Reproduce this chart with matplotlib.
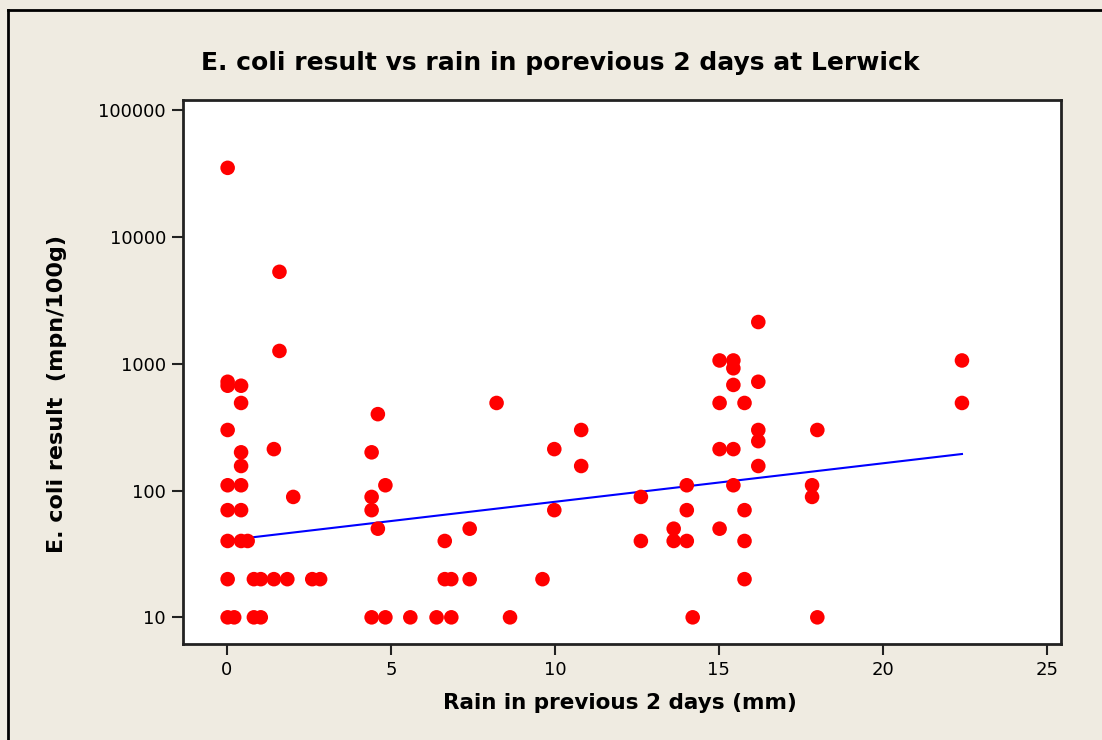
import matplotlib.pyplot as plt
from matplotlib.lines import Line2D
from matplotlib.ticker import FixedLocator, NullLocator

# rain in previous 2 days (mm) and E. coli result (mpn/100g)
rain = [0.02, 0.02, 0.02, 0.02, 0.02, 0.02, 0.02, 0.02, 0.02, 0.22,
        0.43, 0.43, 0.43, 0.43, 0.43, 0.43, 0.43, 0.63,
        0.82, 0.82, 1.03, 1.03, 1.43, 1.43, 1.6, 1.6, 1.84, 2.02, 2.6, 2.84,
        4.41, 4.41, 4.41, 4.41, 4.6, 4.6, 4.83, 4.83, 5.59, 6.39,
        6.64, 6.64, 6.84, 6.84, 7.40, 7.40, 8.22, 8.63, 9.62,
        9.98, 9.98, 10.8, 10.8, 12.62, 12.62, 13.62, 13.62,
        14.02, 14.02, 14.02, 14.2,
        15.02, 15.02, 15.02, 15.02, 15.44, 15.44, 15.44, 15.44, 15.44,
        15.78, 15.78, 15.78, 15.78, 16.2, 16.2, 16.2, 16.2, 16.2,
        17.84, 17.84, 18.0, 18.0, 22.41, 22.41]
ecoli = [35000, 720, 670, 300, 110, 70, 40, 20, 10, 10,
         670, 490, 200, 156, 110, 70, 40, 40,
         20, 10, 20, 10, 212, 20, 5300, 1260, 20, 89, 20, 20,
         200, 89, 70, 10, 400, 50, 110, 10, 10, 10,
         40, 20, 20, 10, 50, 20, 490, 10, 20,
         212, 70, 300, 156, 89, 40, 50, 40,
         110, 70, 40, 10,
         1060, 490, 212, 50, 1060, 920, 680, 212, 110,
         490, 70, 40, 20, 2130, 720, 300, 245, 156,
         110, 89, 300, 10, 1060, 490]

# fitted line end points
fit_x = [0.0, 22.41]
fit_y = [40.5, 194]

xticks = [0, 5, 10, 15, 20, 25]
yticks = [10, 100, 1000, 10000, 100000]

bg = '#efebe1'
fig = plt.figure(figsize=(11.02, 7.40), dpi=100, facecolor=bg)
ax = fig.add_axes([0.1658, 0.1297, 0.7970, 0.7352])
ax.set_facecolor('white')

ax.scatter(rain, ecoli, s=110, color='#ff0000', edgecolors='none', zorder=3)
ax.plot(fit_x, fit_y, color='#0000ff', lw=1.5, zorder=2)

ax.set_yscale('log')
ax.set_xlim(-1.35, 25.43)
ax.set_ylim(6.16, 120000)
ax.xaxis.set_major_locator(FixedLocator(xticks))
ax.set_xticklabels([str(t) for t in xticks])
ax.yaxis.set_major_locator(FixedLocator(yticks))
ax.yaxis.set_minor_locator(NullLocator())
ax.set_yticklabels([str(t) for t in yticks])
ax.tick_params(direction='out', length=8, width=1.5, labelsize=13,
               color='#222222', pad=4)
for t in ax.get_xticklabels() + ax.get_yticklabels():
    t.set_family('DejaVu Sans')
for sp in ax.spines.values():
    sp.set_linewidth(2)
    sp.set_color('#222222')

fig.text(0.508, 0.915, 'E. coli result vs rain in porevious 2 days at Lerwick',
         ha='center', va='center', fontsize=18, fontweight='bold')
fig.text(0.5626, 0.050, 'Rain in previous 2 days (mm)',
         ha='center', va='center', fontsize=15.5, fontweight='bold')
fig.text(0.052, 0.468, 'E. coli result  (mpn/100g)', rotation=90,
         ha='center', va='center', fontsize=16, fontweight='bold')

# outer frame lines (top and left)
fig.add_artist(Line2D([8 / 1102, 1], [1 - 9.5 / 740] * 2, color='black', lw=2))
fig.add_artist(Line2D([8 / 1102] * 2, [0, 1 - 9.5 / 740], color='black', lw=2))

plt.savefig('out.png', dpi=100, facecolor=bg)
